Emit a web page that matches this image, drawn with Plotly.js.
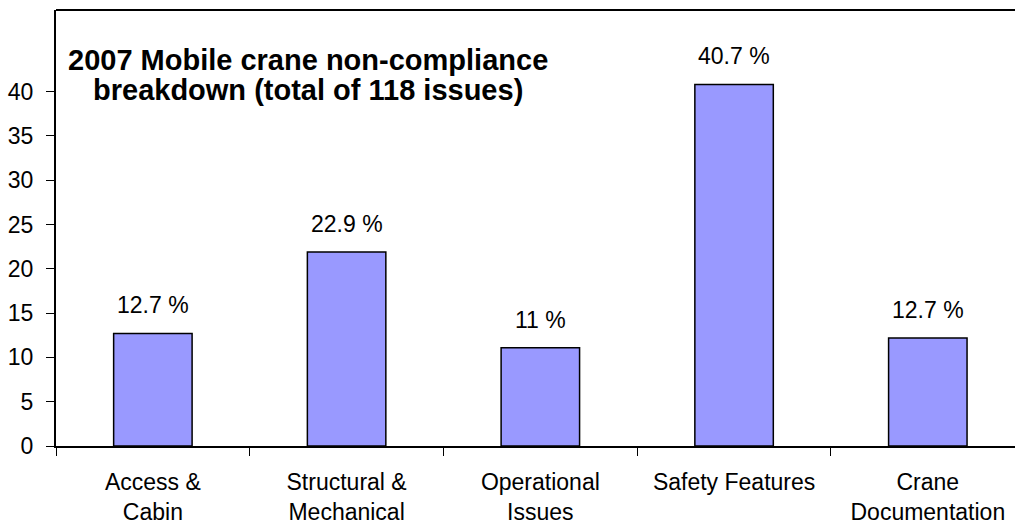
<!DOCTYPE html>
<html>
<head>
<meta charset="utf-8">
<script src="https://cdn.plot.ly/plotly-3.0.1.min.js"></script>
<style>html,body{margin:0;padding:0;background:#fff;}#chart{width:1015px;height:524px;}</style>
</head>
<body>
<div id="chart"></div>
<script>
const categories = ["Access &<br>Cabin", "Structural &<br>Mechanical", "Operational<br>Issues", "Safety Features", "Crane<br>Documentation"];
const barValues = [12.7, 21.9, 11.1, 40.8, 12.2];
const pctLabels = ["12.7 %", "22.9 %", "11 %", "40.7 %", "12.7 %"];
const yTicks = [0, 5, 10, 15, 20, 25, 30, 35, 40];
const titleLines = ["2007 Mobile crane non-compliance", "breakdown (total of 118 issues)"];

const FONT = "Liberation Sans, Arial, sans-serif";
const PLOT_TOP = 10, PLOT_BOTTOM = 446, PLOT_LEFT = 56, PLOT_RIGHT = 1015;

const trace = {
  type: "bar",
  x: categories,
  y: barValues,
  width: 0.405,
  marker: {color: "#9999ff", line: {color: "#000000", width: 1.5}},
  hoverinfo: "skip"
};

const annotations = categories.map((c, i) => ({
  x: c, y: barValues[i], xref: "x", yref: "y",
  text: pctLabels[i], showarrow: false,
  yshift: 28, yanchor: "middle",
  font: {family: FONT, size: 23, color: "#000"}
}));
const titleCenters = [59.5, 90];
titleLines.forEach((t, i) => {
  annotations.push({
    xref: "paper", yref: "paper",
    x: (308 - PLOT_LEFT) / (PLOT_RIGHT - PLOT_LEFT),
    y: (PLOT_BOTTOM - titleCenters[i]) / (PLOT_BOTTOM - PLOT_TOP),
    xanchor: "center", yanchor: "middle", showarrow: false,
    text: "<b>" + t + "</b>",
    font: {family: FONT, size: 29, color: "#000"}
  });
});

const layout = {
  width: 1015, height: 524,
  margin: {l: PLOT_LEFT, r: 1015 - PLOT_RIGHT, t: PLOT_TOP, b: 524 - PLOT_BOTTOM, pad: 0},
  paper_bgcolor: "#fff", plot_bgcolor: "#fff",
  showlegend: false,
  font: {family: FONT, size: 23, color: "#000"},
  xaxis: {
    type: "category",
    range: [-0.5, 4.45],
    showline: true, linecolor: "#000", linewidth: 1.5,
    ticks: "outside", tickson: "boundaries", ticklen: 8, tickcolor: "#000", tickwidth: 1,
    showgrid: false, zeroline: false,
    tickfont: {family: FONT, size: 23, color: "#000"},
    ticklabelstandoff: 15
  },
  yaxis: {
    range: [0, 49.2],
    tickvals: yTicks,
    showline: true, linecolor: "#000", linewidth: 2,
    ticks: "outside", ticklen: 8, tickcolor: "#000", tickwidth: 1,
    showgrid: false, zeroline: false,
    tickfont: {family: FONT, size: 23, color: "#000"},
    ticklabelstandoff: 8
  },
  shapes: [{
    type: "line", xref: "paper", yref: "paper", x0: 0, x1: 1, y0: 1, y1: 1,
    line: {color: "#000", width: 2}
  }],
  annotations: annotations
};

Plotly.newPlot("chart", [trace], layout, {staticPlot: true, displayModeBar: false});
</script>
</body>
</html>
